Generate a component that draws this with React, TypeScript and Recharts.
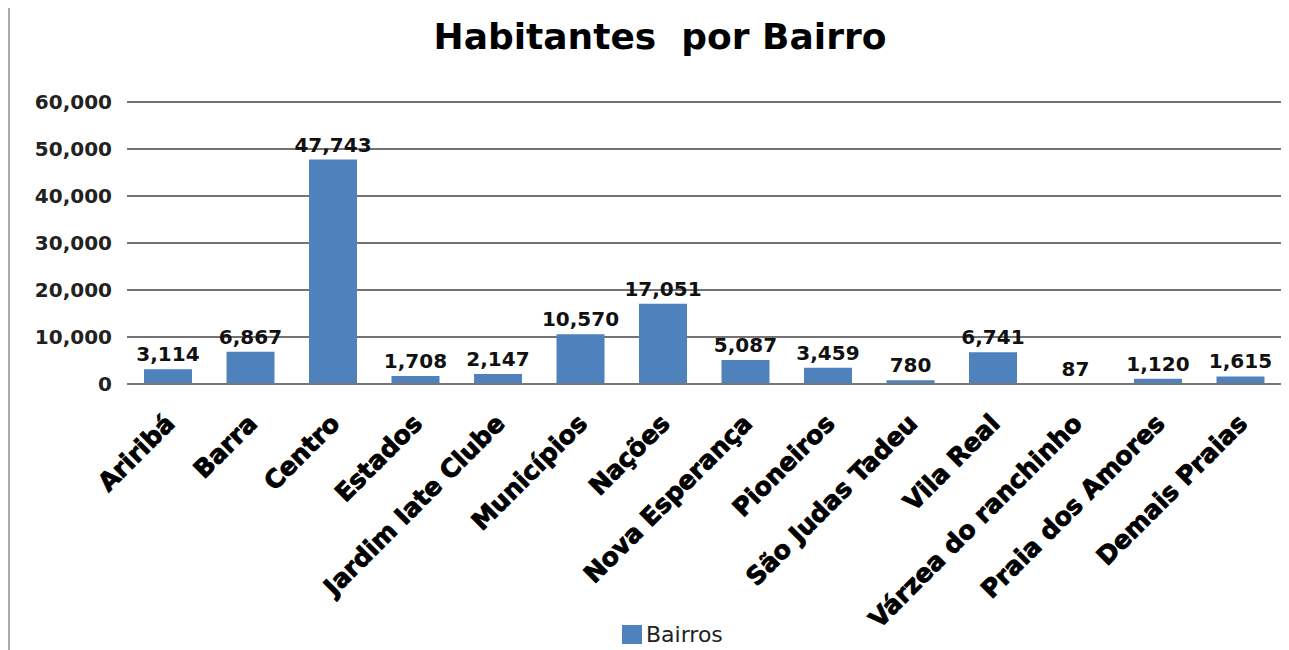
import { BarChart, Bar, XAxis, YAxis, CartesianGrid, Legend, LabelList } from 'recharts'

const bairros = [
  'Ariribá',
  'Barra',
  'Centro',
  'Estados',
  'Jardim Iate Clube',
  'Municípios',
  'Nações',
  'Nova Esperança',
  'Pioneiros',
  'São Judas Tadeu',
  'Vila Real',
  'Várzea do ranchinho',
  'Praia dos Amores',
  'Demais Praias'
]
const habitantes = [3114, 6867, 47743, 1708, 2147, 10570, 17051, 5087, 3459, 780, 6741, 87, 1120, 1615]
const yTicks = [0, 10000, 20000, 30000, 40000, 50000, 60000]

const data = bairros.map((name, i) => ({ name, Bairros: habitantes[i] }))

const fmt = (v: number) => Number(v).toLocaleString('en-US')

// rotated category labels, heavy like the original
const XTick = ({ x, y, payload }: any) => {
  const tx = x + 8
  const ty = y + 33
  return (
    <text
      x={tx}
      y={ty}
      textAnchor="end"
      transform={`rotate(-45 ${tx} ${ty})`}
      fontFamily="DejaVu Sans"
      fontWeight="bold"
      fontSize={25}
      fill="#000"
      stroke="#000"
      strokeWidth={0.9}
    >
      {payload.value}
    </text>
  )
}

const LegendBox = () => (
  <div style={{ display: 'flex', alignItems: 'center', fontFamily: 'DejaVu Sans', fontSize: 22, color: '#222' }}>
    <span style={{ display: 'inline-block', width: 20, height: 19, background: '#4F81BD', marginRight: 4 }} />
    Bairros
  </div>
)

const App = () => {
  return (
    <div
      style={{
        position: 'relative',
        marginTop: -4,
        width: 1272,
        height: 660,
        borderTop: '2px solid #aaa',
        borderLeft: '2px solid #aaa'
      }}
    >
      <div
        style={{
          position: 'absolute',
          left: 0,
          top: 13,
          width: 1300,
          textAlign: 'center',
          fontFamily: 'DejaVu Sans',
          fontWeight: 'bold',
          fontSize: 36,
          lineHeight: '36px',
          color: '#000',
          whiteSpace: 'pre'
        }}
      >
        Habitantes  por Bairro
      </div>
      <BarChart width={1272} height={644} data={data} margin={{ top: 96, right: 0, left: 0, bottom: 0 }}>
        <CartesianGrid vertical={false} stroke="#444" strokeWidth={1.5} />
        <XAxis
          dataKey="name"
          interval={0}
          height={238}
          tick={<XTick />}
          tickLine={false}
          axisLine={{ stroke: '#777', strokeWidth: 2 }}
        />
        <YAxis
          width={117}
          domain={[0, 60000]}
          ticks={yTicks}
          tickFormatter={fmt}
          axisLine={false}
          tickLine={false}
          tickSize={6}
          tickMargin={9}
          tick={{ fontFamily: 'DejaVu Sans', fontWeight: 'bold', fontSize: 20, fill: '#222' }}
        />
        <Legend
          verticalAlign="bottom"
          height={28}
          content={<LegendBox />}
          wrapperStyle={{ left: 612, width: 'auto', bottom: 0 }}
        />
        <Bar dataKey="Bairros" fill="#4F81BD" barSize={48} isAnimationActive={false}>
          <LabelList
            dataKey="Bairros"
            position="top"
            offset={8}
            formatter={(v: any) => fmt(v)}
            style={{ fontFamily: 'DejaVu Sans', fontWeight: 'bold', fontSize: 20, fill: '#111' }}
          />
        </Bar>
      </BarChart>
    </div>
  )
}

export default App
